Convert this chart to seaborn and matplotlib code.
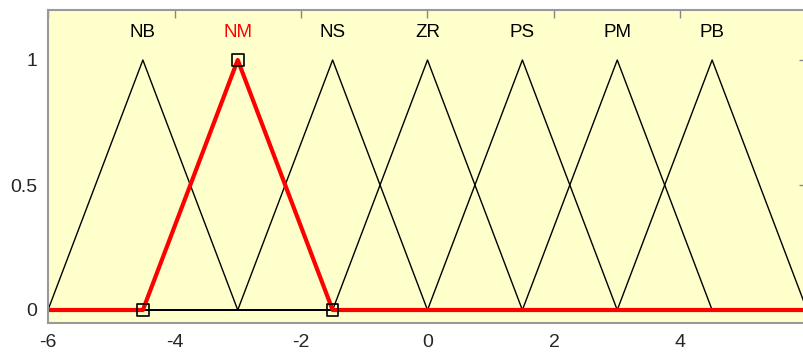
import numpy as np
import pandas as pd
import matplotlib
matplotlib.use("Agg")
import matplotlib.pyplot as plt
import seaborn as sns

# membership functions: triangle feet and peak for each label
mf_names = ["NB", "NM", "NS", "ZR", "PS", "PM", "PB"]
mf_left = [-6.0, -4.5, -3.0, -1.5, 0.0, 1.5, 3.0]
mf_peak = [-4.5, -3.0, -1.5, 0.0, 1.5, 3.0, 4.5]
mf_right = [-3.0, -1.5, 0.0, 1.5, 3.0, 4.5, 6.0]
selected = "NM"
x_range = [-6, 6]

x_ticks = [-6, -4, -2, 0, 2, 4, 6]
y_ticks = [0, 0.5, 1]
y_tick_labels = ["0", "0.5", "1"]

# long-format table: each MF evaluated over the whole range
rows = []
for name, a, b, c in zip(mf_names, mf_left, mf_peak, mf_right):
    xs = [x_range[0], a, b, c, x_range[1]]
    ys = [0, 0, 1, 0, 0]
    for i, (xv, yv) in enumerate(zip(xs, ys)):
        rows.append({"mf": name, "order": i, "x": xv, "y": yv})
df = pd.DataFrame(rows)

sns.set_style("white")
plt.rcParams["font.family"] = ["Liberation Sans", "DejaVu Sans"]

fig = plt.figure(figsize=(8.04, 3.52), dpi=100)
ax = fig.add_axes([48 / 804, 29 / 352, 759 / 804, 313 / 352])
ax.set_facecolor("#ffffcc")

others = df[df["mf"] != selected]
sns.lineplot(data=others, x="x", y="y", units="mf", estimator=None, sort=False,
             color="black", linewidth=1.0, ax=ax)
sel = df[df["mf"] == selected]
sns.lineplot(data=sel, x="x", y="y", estimator=None, sort=False,
             color="red", linewidth=3.0, ax=ax)

# vertex markers of the selected MF
i_sel = mf_names.index(selected)
sel_pts = pd.DataFrame({"x": [mf_left[i_sel], mf_peak[i_sel], mf_right[i_sel]],
                        "y": [0, 1, 0]})
sns.scatterplot(data=sel_pts, x="x", y="y", marker="s", s=70,
                facecolor="none", edgecolor="black", linewidth=1.2, ax=ax, zorder=5)

# labels above peaks
for name, b in zip(mf_names, mf_peak):
    ax.text(b, 1.108, name, ha="center", va="center", fontsize=13.5,
            color="red" if name == selected else "black")

ax.set_xlim(x_range[0], x_range[1])
ax.set_ylim(-0.052, 1.2)
ax.set_xticks(x_ticks)
ax.set_xticklabels([str(t) for t in x_ticks])
ax.set_yticks(y_ticks)
ax.set_yticklabels(y_tick_labels)
ax.set_xlabel("")
ax.set_ylabel("")
ax.tick_params(direction="in", length=6, width=1, color="#888888",
               labelsize=14, top=True, right=True, pad=8)
for s in ax.spines.values():
    s.set_color("#999999")
    s.set_linewidth(1.5)

plt.savefig("out.png", dpi=100, facecolor="white")
plt.close()
